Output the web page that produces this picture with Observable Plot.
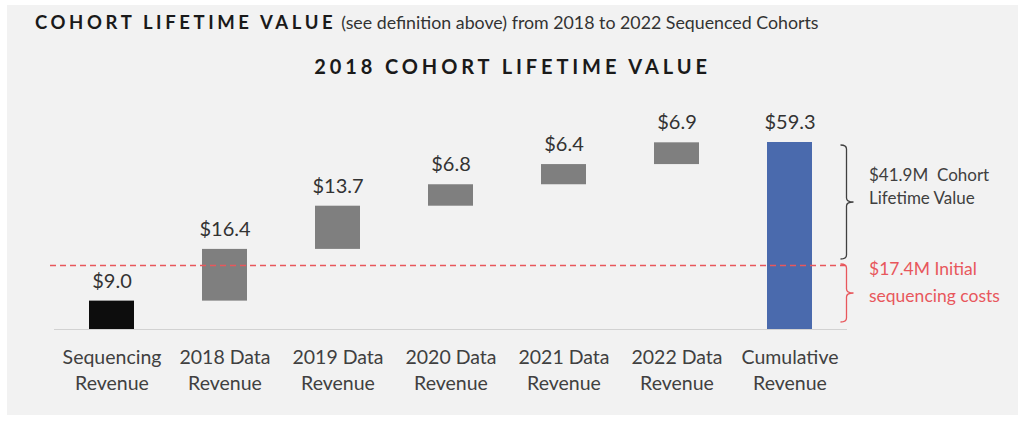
<!DOCTYPE html>
<html>
<head>
<meta charset="utf-8">
<script src="https://cdn.jsdelivr.net/npm/d3@7"></script>
<script src="https://cdn.jsdelivr.net/npm/@observablehq/plot@0.6"></script>
<style>
  body { margin: 0; background: #ffffff; font-family: Lato, "Open Sans", sans-serif; }
  #panel { position: absolute; left: 7px; top: 5px; width: 1011px; height: 410px; background: #f2f2f2; overflow: hidden; }
  #t1 { position: absolute; left: 28px; top: 7px; line-height: 20px; white-space: nowrap; color: #1a1a1a; }
  #t1 b { font-size: 18.5px; font-weight: 700; letter-spacing: 3.6px; }
  #t1 span { font-size: 17.8px; color: #333; margin-left: 5px; }
  #t2 { position: absolute; left: 0; width: 100%; top: 51px; line-height: 20px; text-align: center; font-size: 20px; font-weight: 700; letter-spacing: 3.9px; color: #1a1a1a; white-space: nowrap; }
  #chart { position: absolute; left: 0; top: 80px; }
</style>
</head>
<body>
<div id="panel">
  <div id="t1"><b>COHORT LIFETIME VALUE</b><span>(see definition above) from 2018 to 2022 Sequenced Cohorts</span></div>
  <div id="t2">2018 COHORT LIFETIME VALUE</div>
  <div id="chart"></div>
</div>
<script>
// ---- data ----
const categories = ["Sequencing Revenue", "2018 Data Revenue", "2019 Data Revenue", "2020 Data Revenue", "2021 Data Revenue", "2022 Data Revenue", "Cumulative Revenue"];
const labelLine1 = ["Sequencing", "2018 Data", "2019 Data", "2020 Data", "2021 Data", "2022 Data", "Cumulative"];
const labelLine2 = ["Revenue", "Revenue", "Revenue", "Revenue", "Revenue", "Revenue", "Revenue"];
const values = [9.0, 16.4, 13.7, 6.8, 6.4, 6.9, 59.3];
const barKinds = ["base", "step", "step", "step", "step", "step", "total"];
const valueLabels = ["$9.0", "$16.4", "$13.7", "$6.8", "$6.4", "$6.9", "$59.3"];
const costLineValue = 20.3; // dashed line level as drawn in the picture
const lifetimeLabel = ["$41.9M  Cohort", "Lifetime Value"];
const costLabel = ["$17.4M Initial", "sequencing costs"];

const kindColors = {base: "#0d0d0d", step: "#7f7f7f", total: "#4a6aad"};

let run = 0;
const rows = categories.map((cat, i) => {
  let y1, y2;
  if (barKinds[i] === "total") { y1 = 0; y2 = values[i]; }
  else { y1 = run; y2 = run + values[i]; run = y2; }
  return {cat, l1: labelLine1[i], l2: labelLine2[i], label: valueLabels[i], y1, y2, color: kindColors[barKinds[i]]};
});
const lastCat = categories[categories.length - 1];
const total = values[values.length - 1];

// brace annotations drawn with the plot's scales
function braces(index, scales) {
  const xs = scales.x, ys = scales.y;
  const bw = xs.bandwidth ? xs.bandwidth() : 0;
  const cx = xs(lastCat) + bw / 2;
  const x0 = cx + 51, x1 = cx + 57, x2 = cx + 64;
  const g = d3.create("svg:g").attr("fill", "none").attr("stroke-width", 1.3);
  function brace(yt, yb, color) {
    const ym = (yt + yb) / 2, r = 4;
    const p = `M${x0},${yt} Q${x1},${yt} ${x1},${yt + r} L${x1},${ym - r} Q${x1},${ym} ${x2},${ym} Q${x1},${ym} ${x1},${ym + r} L${x1},${yb - r} Q${x1},${yb} ${x0},${yb}`;
    g.append("path").attr("d", p).attr("stroke", color);
  }
  brace(ys(total) + 3, ys(costLineValue) - 6, "#404040");
  brace(ys(costLineValue) - 1, ys(0) - 7, "#e8575c");
  return g.node();
}

const fontFamily = "Lato, 'Open Sans', sans-serif";
const chart = Plot.plot({
  width: 1011,
  height: 330,
  marginLeft: 24,
  marginRight: 148,
  marginTop: 57,
  marginBottom: 86,
  style: {background: "transparent", fontFamily, overflow: "visible"},
  x: {domain: categories, paddingInner: 0.604, paddingOuter: 0.5, axis: null},
  y: {domain: [0, total], axis: null},
  color: {type: "identity"},
  marks: [
    Plot.ruleY([0], {stroke: "#d2d2d2", strokeWidth: 1, insetLeft: 23, insetRight: 23}),
    Plot.barY(rows, {x: "cat", y1: "y1", y2: "y2", fill: "color"}),
    Plot.ruleY([costLineValue], {stroke: "#e8575c", strokeWidth: 1.4, strokeDasharray: "6,4", insetLeft: 19, insetRight: 25}),
    Plot.text(rows, {x: "cat", y: "y2", text: "label", dy: -20, fontSize: 20, fill: "#333333"}),
    Plot.text(rows, {x: "cat", y: () => 0, text: "l1", dy: 28, fontSize: 19.5, fill: "#404040"}),
    Plot.text(rows, {x: "cat", y: () => 0, text: "l2", dy: 54, fontSize: 19.5, fill: "#404040"}),
    braces,
    Plot.text([lifetimeLabel[0]], {x: () => lastCat, y: () => (total + costLineValue) / 2, text: d => d, dx: 79, dy: -28.5, textAnchor: "start", fontSize: 17, fill: "#404040"}),
    Plot.text([lifetimeLabel[1]], {x: () => lastCat, y: () => (total + costLineValue) / 2, text: d => d, dx: 79, dy: -5.5, textAnchor: "start", fontSize: 17, fill: "#404040"}),
    Plot.text([costLabel[0]], {x: () => lastCat, y: () => costLineValue / 2, text: d => d, dx: 79, dy: -28, textAnchor: "start", fontSize: 17.5, fill: "#e8575c"}),
    Plot.text([costLabel[1]], {x: () => lastCat, y: () => costLineValue / 2, text: d => d, dx: 79, dy: -1, textAnchor: "start", fontSize: 17.5, fill: "#e8575c"})
  ]
});
document.getElementById("chart").appendChild(chart);
</script>
</body>
</html>
